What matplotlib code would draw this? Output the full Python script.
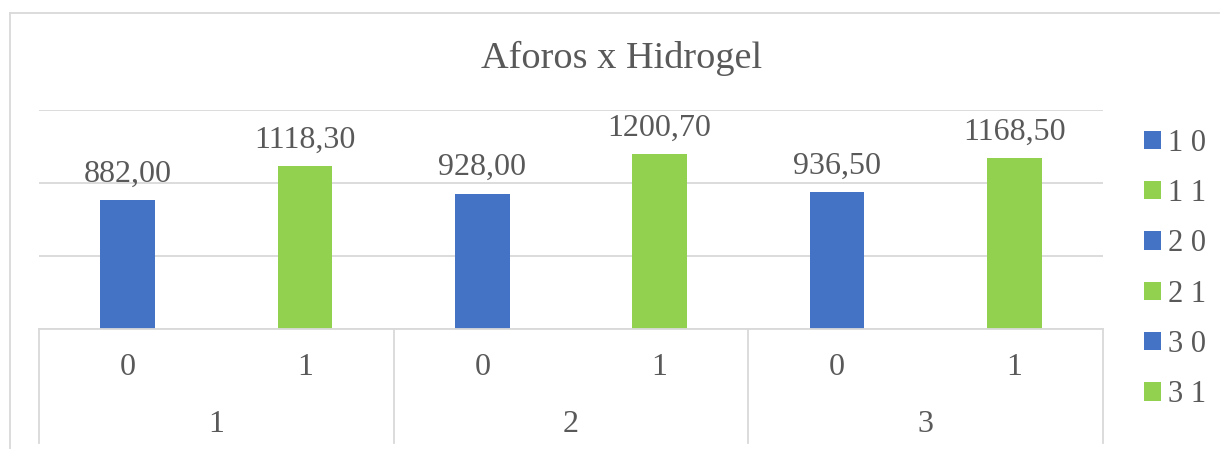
import matplotlib.pyplot as plt
from matplotlib.patches import Patch
from matplotlib.lines import Line2D

plt.rcParams['font.family'] = ['Liberation Serif', 'DejaVu Serif']

# data
groups = ['1', '2', '3']
levels = ['0', '1']
series = ['1 0', '1 1', '2 0', '2 1', '3 0', '3 1']
values = [882.00, 1118.30, 928.00, 1200.70, 936.50, 1168.50]

blue = '#4472C4'
green = '#92D050'
colors = [blue, green, blue, green, blue, green]
txt = '#595959'
grid = '#D9D9D9'

fig = plt.figure(figsize=(12.21, 4.49), dpi=100)
ax = fig.add_axes([39 / 1221, 1 - 329 / 449, (1103 - 39) / 1221, (329 - 110) / 449])

for i, (s, v, c) in enumerate(zip(series, values, colors)):
    ax.bar(i, v, width=0.31, color=c, label=s, zorder=3)
    ax.annotate(f'{v:.2f}'.replace('.', ','), (i, v), xytext=(0, 18.5),
                textcoords='offset points', ha='center', va='center',
                fontsize=23, color=txt)

ax.set_xlim(-0.5, len(values) - 0.5)
ax.set_ylim(0, 1500)
ax.set_yticks([0, 500, 1000, 1500])
ax.yaxis.grid(True, color=grid, lw=1.3, zorder=0)
ax.set_yticklabels([])
ax.set_xticks([])
ax.tick_params(left=False, bottom=False)
for sp in ax.spines.values():
    sp.set_visible(False)

# multi-level category axis
ax.add_line(Line2D([-0.5, len(values) - 0.5], [0, 0], color=grid, lw=1.3,
                   clip_on=False, zorder=4))
tr = ax.get_xaxis_transform()
for i in range(len(values)):
    ax.text(i, -0.178, levels[i % 2], transform=tr, ha='center', va='center',
            fontsize=23, color=txt)
for g, name in enumerate(groups):
    ax.text(2 * g + 0.5, -0.438, name, transform=tr, ha='center', va='center',
            fontsize=23, color=txt)
for b in [-0.5, 1.5, 3.5, 5.5]:
    ax.add_line(Line2D([b, b], [0, -0.52], transform=tr, color=grid, lw=1.3,
                       clip_on=False))

fig.text(622 / 1221, 1 - 58 / 449, 'Aforos x Hidrogel', ha='center', va='center',
         fontsize=27.5, color=txt)

# chart border
fig.add_artist(Line2D([10 / 1221, 10 / 1221], [0, 1 - 13 / 449], color=grid, lw=1.3))
fig.add_artist(Line2D([10 / 1221, 1219 / 1221], [1 - 13 / 449, 1 - 13 / 449], color=grid, lw=1.3))

handles = [Patch(facecolor=c) for c in colors]
fig.legend(handles, series, loc='center left', bbox_to_anchor=(1144 / 1221, 1 - 269 / 449),
           frameon=False, fontsize=22, labelcolor=txt, handlelength=0.55,
           handleheight=0.55, handletextpad=0.25, labelspacing=0.7,
           borderpad=0, borderaxespad=0)

fig.savefig('out.png', dpi=100)
